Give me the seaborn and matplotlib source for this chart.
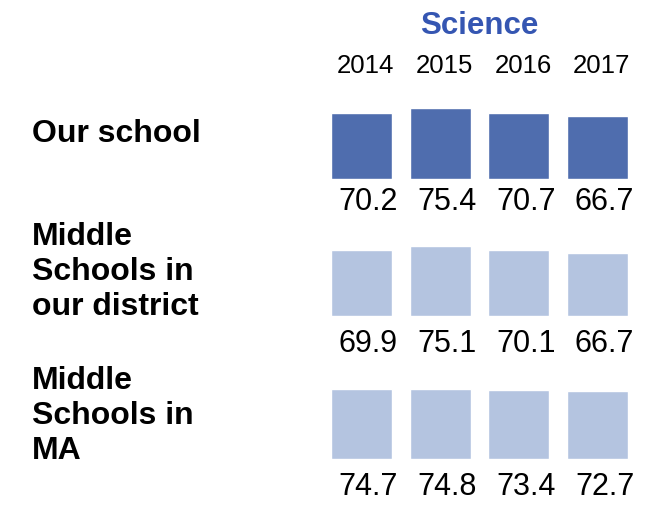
import matplotlib
matplotlib.use("Agg")
import matplotlib.pyplot as plt
import seaborn as sns
import pandas as pd

# data
years = ["2014", "2015", "2016", "2017"]
groups = ["Our school", "Middle\nSchools in\nour district", "Middle\nSchools in\nMA"]
our_school = [70.2, 75.4, 70.7, 66.7]
district = [69.9, 75.1, 70.1, 66.7]
state = [74.7, 74.8, 73.4, 72.7]
series = [our_school, district, state]

bar_colors = ["#4F6DAE", "#B4C4E0", "#B4C4E0"]

sns.set_style("white")
plt.rcParams["font.family"] = ["Liberation Sans", "DejaVu Sans"]
plt.rcParams["text.color"] = "black"

W, H = 651, 514
fig = plt.figure(figsize=(W / 100, H / 100), dpi=100)

# pixel layout of each row: bar baseline y, label center y, value label offset
rows = [(179, 134, 16.5), (316, 272, 20), (459, 416, 20)]
left_px, width_px, ax_h_px = 322, 315, 75

axes = []
for i, (vals, color, (base, lab_y, off)) in enumerate(zip(series, bar_colors, rows)):
    ax = fig.add_axes([left_px / W, (H - base) / H, width_px / W, ax_h_px / H])
    df = pd.DataFrame({"year": years, "score": vals})
    sns.barplot(data=df, x="year", y="score", color=color, width=0.775,
                saturation=1, ax=ax)
    ax.set_ylim(0, 80)
    ax.set_xlim(-0.5, 3.5)
    ax.axis("off")
    for j, v in enumerate(vals):
        ax.annotate(f"{v:.1f}", (j, 0), xytext=(5, -off), textcoords="offset points",
                    ha="center", va="center", fontsize=22, color="black")
    fig.text(32 / W, 1 - lab_y / H, groups[i], ha="left", va="center",
             fontsize=23, fontweight="bold", linespacing=1.2, color="black")
    axes.append(ax)

# year headers above top row
for j, y in enumerate(years):
    axes[0].annotate(y, (j, 80), xytext=(3, 27.5), textcoords="offset points",
                     ha="center", va="center", fontsize=18.5, color="black",
                     annotation_clip=False)

fig.text(479 / W, 1 - 26 / H, "Science", ha="center", va="center",
         fontsize=22.5, fontweight="bold", color="#3556B2")

plt.savefig("out.png", dpi=100)
